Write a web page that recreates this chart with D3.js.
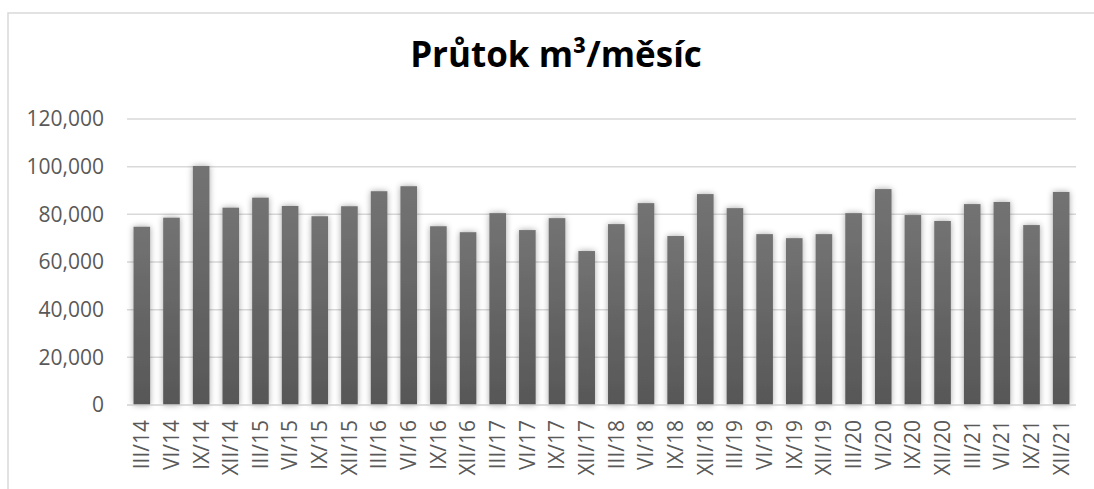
<!DOCTYPE html>
<html lang="cs">
<head>
    <meta charset="utf-8">
    <script src="https://d3js.org/d3.v7.min.js"></script>
    <style>
        body { margin: 0; background: #fff; overflow: hidden; }
    </style>
</head>
<body>
    <div id="chart"></div>
    <script>
        // quarter labels and monthly flow (m3)
        const periods = ["III/14", "VI/14", "IX/14", "XII/14", "III/15", "VI/15", "IX/15", "XII/15",
            "III/16", "VI/16", "IX/16", "XII/16", "III/17", "VI/17", "IX/17", "XII/17",
            "III/18", "VI/18", "IX/18", "XII/18", "III/19", "VI/19", "IX/19", "XII/19",
            "III/20", "VI/20", "IX/20", "XII/20", "III/21", "VI/21", "IX/21", "XII/21"];
        const flow = [74800, 78600, 100300, 82800, 87000, 83500, 79200, 83400,
            89700, 91800, 75000, 72500, 80500, 73400, 78400, 64600,
            75900, 84700, 70900, 88500, 82600, 71700, 70000, 71700,
            80500, 90600, 79700, 77200, 84300, 85200, 75500, 89400];
        const yTicks = [0, 20000, 40000, 60000, 80000, 100000, 120000];
        const title = "Průtok m³/měsíc";

        const W = 1094, H = 489;
        const plot = { left: 127, right: 1076, top: 119, bottom: 405 };

        const svg = d3.select("#chart").append("svg")
            .attr("width", W)
            .attr("height", H);

        // gradient + shadow for bars
        const defs = svg.append("defs");
        const grad = defs.append("linearGradient")
            .attr("id", "barGrad")
            .attr("x1", 0).attr("y1", 0).attr("x2", 0).attr("y2", 1);
        grad.append("stop").attr("offset", "0%").attr("stop-color", "#737373");
        grad.append("stop").attr("offset", "100%").attr("stop-color", "#575757");

        const shadow = defs.append("filter")
            .attr("id", "shadow")
            .attr("x", "-60%").attr("y", "-10%")
            .attr("width", "220%").attr("height", "120%");
        shadow.append("feDropShadow")
            .attr("dx", 0).attr("dy", 0)
            .attr("stdDeviation", 3)
            .attr("flood-color", "#000")
            .attr("flood-opacity", 0.35);

        // chart frame (right and bottom edges fall outside the window)
        svg.append("path")
            .attr("d", `M8,${H + 5} V13 H${W + 5}`)
            .attr("fill", "none")
            .attr("stroke", "#d9d9d9")
            .attr("stroke-width", 1.5);

        // title
        svg.append("text")
            .attr("x", 556).attr("y", 67)
            .attr("text-anchor", "middle")
            .style("font-family", "'Open Sans', sans-serif")
            .style("font-weight", 700)
            .style("font-size", "35px")
            .attr("fill", "#000")
            .text(title);

        const x = d3.scaleBand()
            .domain(periods)
            .range([plot.left, plot.right])
            .paddingInner(0.44)
            .paddingOuter(0.22);

        const y = d3.scaleLinear()
            .domain([0, 120000])
            .range([plot.bottom, plot.top]);

        // gridlines
        svg.append("g")
            .selectAll("line")
            .data(yTicks.filter(d => d > 0))
            .join("line")
            .attr("x1", plot.left).attr("x2", plot.right)
            .attr("y1", d => y(d)).attr("y2", d => y(d))
            .attr("stroke", "#d9d9d9")
            .attr("stroke-width", 1.5);

        // y axis labels
        const yAxis = svg.append("g")
            .attr("transform", `translate(${plot.left - 10},0)`)
            .call(d3.axisLeft(y).tickValues(yTicks).tickSize(0).tickPadding(13)
                .tickFormat(d3.format(",")));
        yAxis.select(".domain").remove();
        yAxis.selectAll("text")
            .style("font-family", "'Open Sans', sans-serif")
            .style("font-size", "21px")
            .attr("fill", "#595959");

        // bars
        svg.append("g")
            .selectAll("rect")
            .data(flow)
            .join("rect")
            .attr("x", (d, i) => x(periods[i]))
            .attr("y", d => y(d))
            .attr("width", x.bandwidth())
            .attr("height", d => y(0) - y(d))
            .attr("fill", "url(#barGrad)")
            .attr("filter", "url(#shadow)");

        // baseline
        svg.append("line")
            .attr("x1", plot.left).attr("x2", plot.right)
            .attr("y1", y(0)).attr("y2", y(0))
            .attr("stroke", "#d0d0d0")
            .attr("stroke-width", 1.5);

        // x axis labels
        const xAxis = svg.append("g")
            .attr("transform", `translate(0,${plot.bottom})`)
            .call(d3.axisBottom(x).tickSize(0).tickPadding(0));
        xAxis.select(".domain").remove();
        xAxis.selectAll("text")
            .style("font-family", "'Open Sans', sans-serif")
            .style("font-size", "21px")
            .attr("fill", "#595959")
            .attr("transform", "rotate(-90)")
            .attr("text-anchor", "end")
            .attr("x", -15)
            .attr("y", 0)
            .attr("dy", "0.35em");
    </script>
</body>
</html>
